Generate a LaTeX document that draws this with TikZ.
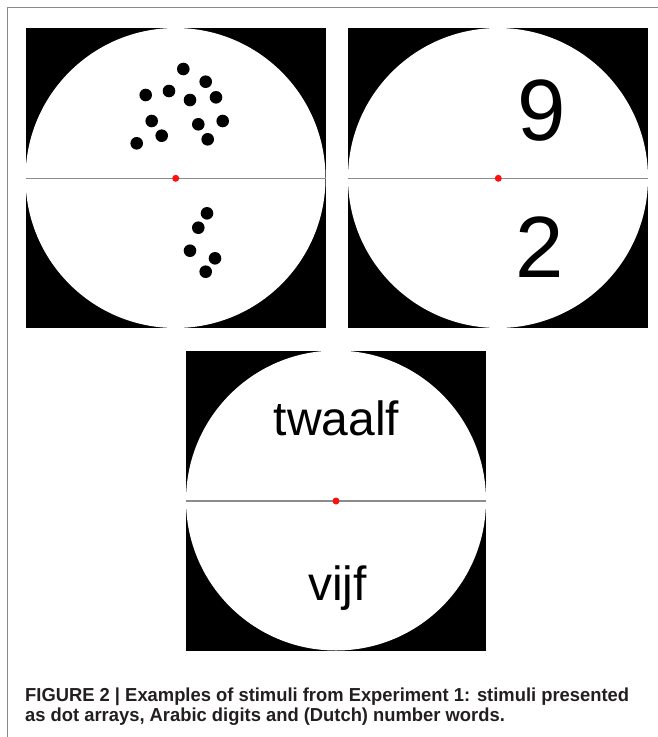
\documentclass[tikz,border=0pt]{standalone}
\usepackage{fontspec}
\setmainfont{Liberation Sans}
\newfontfamily\capfont[FakeStretch=0.977]{Liberation Sans Bold}
\definecolor{framegray}{HTML}{8A8A8A}
\definecolor{linegray}{HTML}{8C8C8C}
\definecolor{fixred}{HTML}{FF1010}
\definecolor{captext}{HTML}{231F20}
\begin{document}
\begin{tikzpicture}[x=1pt,y=-1pt,
  panelbg/.style={fill=black},
  disc/.style={fill=white},
  midline/.style={draw=linegray,line width=1.4pt},
  fixdot/.style={circle,fill=fixred,inner sep=0pt,minimum size=7pt},
  stimdot/.style={circle,fill=black,inner sep=0pt,minimum size=12.6pt},
  digit/.style={inner sep=0pt,anchor=base,font=\fontsize{87}{87}\selectfont},
  word/.style={inner sep=0pt,anchor=base,font=\fontsize{48}{48}\selectfont},
  capline/.style={inner sep=0pt,anchor=base west,text=captext,font=\capfont\fontsize{18.8}{20}\selectfont},
  frameline/.style={draw=framegray,line width=1pt}]
\useasboundingbox (0,0) rectangle (658,737);
% outer frame (top and left)
\draw[frameline] (658,7) -- (7,7) -- (7,737);
% panel 1: dots
\fill[panelbg] (25.5,28) rectangle (325.5,328);
\fill[disc] (175.5,178) circle (150);
\draw[midline] (25.5,178.3) -- (325.5,178.3);
\node[fixdot] (f1) at (175.7,178.3) {};
\foreach \i/\px/\py in {1/183.3/69,2/205.7/81.7,3/145.7/95,4/169/91,5/190/100,6/216/97.3,7/151.7/121,8/198.3/124.3,9/222.7/121,10/161.7/135.7,11/136.7/143.3,12/207.7/139.3}
  \node[stimdot] (u\i) at (\px,\py) {};
\foreach \i/\px/\py in {1/207/213.3,2/198.3/227.7,3/190/250.7,4/215/258.3,5/205.7/271.7}
  \node[stimdot] (l\i) at (\px,\py) {};
% panel 2: digits
\fill[panelbg] (348,28) rectangle (648,328);
\fill[disc] (498,178) circle (150);
\draw[midline] (348,178.3) -- (648,178.3);
\node[fixdot] (f2) at (498.3,178.3) {};
\node[digit] (nine) at (541.5,140) {9};
\node[digit] (two) at (540,277) {2};
% panel 3: words
\fill[panelbg] (186,350.5) rectangle (486,650.5);
\fill[disc] (336,500.5) circle (150);
\draw[midline] (186,501) -- (486,501);
\node[fixdot] (f3) at (336,501) {};
\node[word] (tw) at (336.5,435) {twaalf};
\node[word] (vi) at (337.5,600) {vijf};
% caption
\node[capline] (c1) at (25,701.7) {FIGURE 2 | Examples of stimuli from Experiment 1: stimuli presented};
\node[capline] (c2) at (25,721.7) {as dot arrays, Arabic digits and (Dutch) number words.};
\end{tikzpicture}
\end{document}
